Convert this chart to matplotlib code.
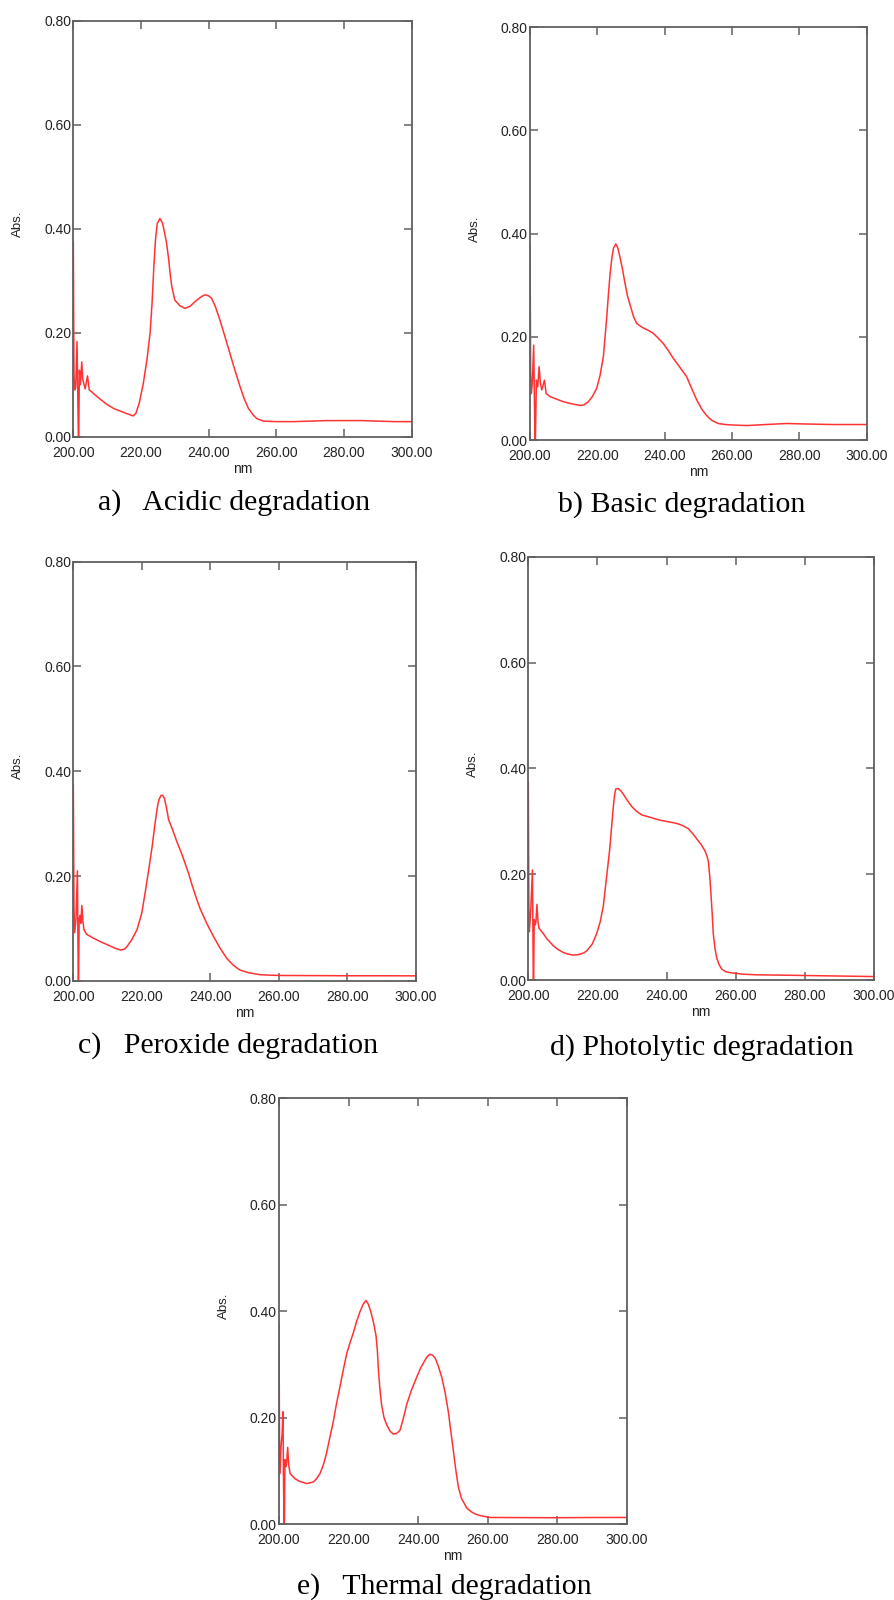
import matplotlib
matplotlib.use("Agg")
import matplotlib.pyplot as plt
from matplotlib.ticker import FixedLocator

# ---- spectra (wavelength in nm, absorbance) ----
wl_acidic = [200.0, 200.2, 200.4, 200.7, 201.1, 201.3, 201.5, 201.6, 201.8, 202.1,
             202.5, 202.8, 203.2, 203.5, 204.2, 204.7, 205.5, 206.5, 208.0, 210.0,
             212.0, 214.0, 216.0, 217.7, 218.5, 219.5, 220.7, 221.8, 222.7, 223.3,
             223.8, 224.3, 224.8, 225.6, 226.3, 226.8, 227.5, 228.1, 228.6, 229.1,
             230.0, 231.5, 233.0, 234.5, 236.5, 238.0, 238.9, 240.0, 240.9, 242.0,
             243.3, 244.8, 246.3, 247.8, 249.3, 250.5, 251.7, 253.0, 254.2, 256.2,
             260.0, 265.0, 270.0, 275.0, 280.0, 285.0, 290.0, 295.0, 300.0]
abs_acidic = [0.375, 0.120, 0.090, 0.095, 0.183, 0.090, 0.000, 0.000, 0.128, 0.100,
              0.144, 0.110, 0.100, 0.092, 0.117, 0.090, 0.086, 0.080, 0.072, 0.062,
              0.054, 0.049, 0.044, 0.040, 0.045, 0.065, 0.103, 0.150, 0.200, 0.260,
              0.327, 0.380, 0.410, 0.420, 0.412, 0.398, 0.375, 0.346, 0.315, 0.289,
              0.263, 0.252, 0.247, 0.251, 0.263, 0.270, 0.273, 0.271, 0.266, 0.250,
              0.225, 0.193, 0.160, 0.127, 0.096, 0.073, 0.055, 0.043, 0.035, 0.030,
              0.029, 0.029, 0.030, 0.031, 0.031, 0.031, 0.030, 0.029, 0.029]

wl_basic = [200.0, 200.2, 200.4, 200.7, 201.1, 201.35, 201.5, 201.6, 201.9, 202.3,
            202.7, 203.1, 203.5, 204.3, 204.8, 206.0, 208.0, 210.0, 212.5, 214.9,
            216.0, 217.3, 218.5, 219.8, 220.8, 221.8, 222.3, 222.8, 223.3, 223.8,
            224.3, 224.8, 225.5, 226.1, 226.7, 227.5, 228.2, 229.0, 229.9, 230.8,
            231.7, 232.7, 233.7, 235.0, 236.6, 238.0, 239.6, 241.0, 242.6, 244.5,
            246.5, 248.0, 249.5, 251.0, 252.5, 254.0, 255.9, 258.0, 260.4, 264.4,
            270.0, 276.2, 282.0, 290.0, 300.0]
abs_basic = [0.375, 0.130, 0.090, 0.110, 0.184, 0.060, 0.000, 0.000, 0.116, 0.103,
             0.142, 0.110, 0.097, 0.116, 0.090, 0.084, 0.079, 0.074, 0.070, 0.067,
             0.068, 0.074, 0.084, 0.100, 0.125, 0.162, 0.200, 0.239, 0.283, 0.323,
             0.352, 0.372, 0.380, 0.372, 0.355, 0.330, 0.304, 0.278, 0.258, 0.238,
             0.226, 0.221, 0.217, 0.213, 0.207, 0.198, 0.187, 0.174, 0.158, 0.141,
             0.123, 0.100, 0.078, 0.060, 0.047, 0.038, 0.032, 0.030, 0.029, 0.028,
             0.030, 0.032, 0.031, 0.030, 0.030]

wl_peroxide = [200.0, 200.2, 200.4, 200.8, 201.2, 201.35, 201.45, 201.55, 201.7, 202.0,
               202.2, 202.5, 202.8, 203.1, 203.9, 205.5, 207.9, 210.0, 212.0, 213.8,
               215.0, 215.7, 217.0, 218.6, 220.0, 221.0, 222.0, 223.0, 223.8, 224.6,
               225.0, 225.6, 226.1, 226.6, 227.2, 227.8, 229.0, 230.2, 231.5, 232.7,
               233.7, 234.6, 235.8, 237.0, 239.0, 240.9, 242.8, 244.8, 246.7, 248.6,
               251.0, 254.5, 258.0, 261.2, 270.0, 280.0, 290.0, 300.0]
abs_peroxide = [0.374, 0.140, 0.092, 0.120, 0.210, 0.080, 0.000, 0.000, 0.118, 0.125,
                0.110, 0.144, 0.115, 0.098, 0.089, 0.083, 0.075, 0.069, 0.063, 0.059,
                0.061, 0.066, 0.078, 0.098, 0.130, 0.170, 0.212, 0.256, 0.298, 0.334,
                0.346, 0.354, 0.354, 0.348, 0.330, 0.308, 0.288, 0.266, 0.245, 0.223,
                0.204, 0.184, 0.160, 0.138, 0.109, 0.085, 0.063, 0.043, 0.030, 0.021,
                0.016, 0.012, 0.011, 0.0105, 0.0103, 0.0100, 0.0100, 0.0098]

wl_photolytic = [200.0, 200.15, 200.3, 200.7, 201.2, 201.35, 201.45, 201.55, 201.7, 202.0,
                 202.2, 202.5, 202.8, 203.1, 204.3, 205.5, 207.2, 208.5, 210.1, 211.5,
                 213.0, 214.5, 216.0, 216.9, 218.5, 219.8, 220.8, 221.7, 222.3, 223.0,
                 223.6, 224.1, 224.6, 225.0, 225.3, 226.0, 226.7, 227.5, 228.7, 229.9,
                 231.3, 232.8, 235.5, 238.1, 240.5, 242.9, 244.6, 246.3, 247.5, 248.7,
                 250.0, 251.1, 251.7, 252.1, 252.5, 252.8, 253.2, 253.5, 254.0, 254.5,
                 255.2, 255.9, 257.0, 258.3, 262.0, 266.0, 275.0, 285.0, 300.0]
abs_photolytic = [0.374, 0.150, 0.091, 0.130, 0.208, 0.080, 0.000, 0.000, 0.114, 0.104,
                  0.110, 0.143, 0.110, 0.098, 0.088, 0.077, 0.065, 0.058, 0.052, 0.049,
                  0.047, 0.048, 0.051, 0.055, 0.068, 0.088, 0.110, 0.140, 0.175, 0.215,
                  0.250, 0.290, 0.328, 0.352, 0.361, 0.362, 0.358, 0.351, 0.339, 0.328,
                  0.319, 0.312, 0.307, 0.302, 0.299, 0.296, 0.292, 0.286, 0.277, 0.267,
                  0.256, 0.244, 0.234, 0.224, 0.195, 0.166, 0.125, 0.088, 0.060, 0.042,
                  0.029, 0.021, 0.016, 0.014, 0.011, 0.0098, 0.0090, 0.0080, 0.0065]

wl_thermal = [200.0, 200.15, 200.3, 200.6, 200.9, 201.15, 201.3, 201.45, 201.55, 201.7,
              202.0, 202.2, 202.5, 202.8, 203.2, 204.6, 206.0, 208.0, 209.9, 210.8,
              211.8, 212.8, 213.7, 214.6, 215.6, 216.5, 217.5, 218.5, 219.5, 220.5,
              221.4, 222.3, 223.3, 224.2, 225.0, 225.7, 226.4, 227.2, 227.9, 228.3,
              228.6, 229.0, 229.5, 230.2, 231.0, 232.0, 232.9, 233.8, 234.8, 235.7,
              236.7, 238.0, 239.6, 240.8, 242.0, 242.7, 243.4, 244.2, 244.9, 245.8,
              246.8, 247.8, 248.7, 249.4, 250.1, 250.8, 251.6, 252.5, 254.0, 255.5,
              256.9, 258.8, 260.7, 270.0, 280.0, 290.0, 300.0]
abs_thermal = [0.376, 0.150, 0.095, 0.147, 0.170, 0.211, 0.080, 0.000, 0.000, 0.121,
               0.108, 0.115, 0.144, 0.110, 0.095, 0.085, 0.080, 0.076, 0.079, 0.085,
               0.095, 0.112, 0.134, 0.162, 0.192, 0.225, 0.257, 0.290, 0.321, 0.342,
               0.360, 0.380, 0.399, 0.413, 0.420, 0.413, 0.399, 0.378, 0.354, 0.325,
               0.289, 0.255, 0.224, 0.200, 0.186, 0.174, 0.169, 0.170, 0.176, 0.197,
               0.224, 0.250, 0.276, 0.294, 0.308, 0.315, 0.319, 0.317, 0.312, 0.297,
               0.276, 0.246, 0.211, 0.175, 0.140, 0.104, 0.069, 0.048, 0.030, 0.022,
               0.0175, 0.0145, 0.0123, 0.0120, 0.0118, 0.0122, 0.0123]

captions = ["a)   Acidic degradation", "b) Basic degradation", "c)   Peroxide degradation",
            "d) Photolytic degradation", "e)   Thermal degradation"]

x_ticks = [200, 220, 240, 260, 280, 300]
y_ticks = [0.0, 0.2, 0.4, 0.6, 0.8]
x_tick_labels = ["200.00", "220.00", "240.00", "260.00", "280.00", "300.00"]
y_tick_labels = ["0.00", "0.20", "0.40", "0.60", "0.80"]

# ---- layout (pixel boxes: left, top, right, bottom; caption x, caption baseline) ----
W, H = 895, 1600
boxes = [(73.3, 21.0, 411.7, 436.7), (530.0, 27.3, 866.7, 440.0),
         (73.3, 561.5, 416.0, 981.0), (528.3, 556.7, 874.0, 980.0),
         (279.0, 1098.3, 626.7, 1524.0)]
caption_pos = [(98.3, 510.0), (558.3, 511.7), (78.0, 1052.7), (550.0, 1055.0), (296.7, 1594.0)]

spectra = [(wl_acidic, abs_acidic), (wl_basic, abs_basic), (wl_peroxide, abs_peroxide),
           (wl_photolytic, abs_photolytic), (wl_thermal, abs_thermal)]

SPINE = "#606060"
TEXT = "#222222"
RED = "#ff3333"
SANS = ["Liberation Sans", "DejaVu Sans"]
SERIF = ["Liberation Serif", "DejaVu Serif"]
PT = 72.0 / 100.0  # points per pixel at 100 dpi

fig = plt.figure(figsize=(W / 100, H / 100), dpi=100)
fig.patch.set_facecolor("white")

for (l, t, r, b), (wl, ab), cap, (cx, cy) in zip(boxes, spectra, captions, caption_pos):
    ax = fig.add_axes([l / W, 1 - b / H, (r - l) / W, (b - t) / H])
    ax.plot(wl, ab, color=RED, lw=1.1, solid_joinstyle="round")
    ax.set_xlim(200, 300)
    ax.set_ylim(0, 0.8)

    for s in ax.spines.values():
        s.set_color(SPINE)
        s.set_linewidth(1.3)

    ax.xaxis.set_major_locator(FixedLocator(x_ticks))
    ax.set_xticklabels(x_tick_labels)
    ax.yaxis.set_major_locator(FixedLocator(y_ticks))
    ax.set_yticklabels(y_tick_labels)
    ax.tick_params(axis="both", direction="in", length=5.5, width=1.1, color=SPINE,
                   labelsize=10, labelcolor=TEXT, top=True, right=True)
    ax.tick_params(axis="x", pad=6.5)
    ax.tick_params(axis="y", pad=1.5)
    for lab in ax.get_xticklabels() + ax.get_yticklabels():
        lab.set_fontfamily(SANS)
    # the bottom axis carries inner marks only at 240-280 nm
    ax.xaxis.get_major_ticks()[1].tick1line.set_visible(False)

    ax.annotate("nm", xy=(0.5, 0), xycoords="axes fraction",
                xytext=(0, -36 * PT), textcoords="offset points",
                ha="center", va="baseline", fontsize=10, color=TEXT, family=SANS)
    ax.annotate("Abs.", xy=(0, 0.5), xycoords="axes fraction",
                xytext=(-55 * PT, 5 * PT), textcoords="offset points",
                ha="center", va="center", rotation=90, fontsize=9.5, color=TEXT,
                family=SANS)

    fig.text(cx / W, 1 - cy / H, cap, ha="left", va="baseline",
             fontsize=21.5, color="black", family=SERIF)

fig.savefig("out.png", dpi=100, facecolor="white")
